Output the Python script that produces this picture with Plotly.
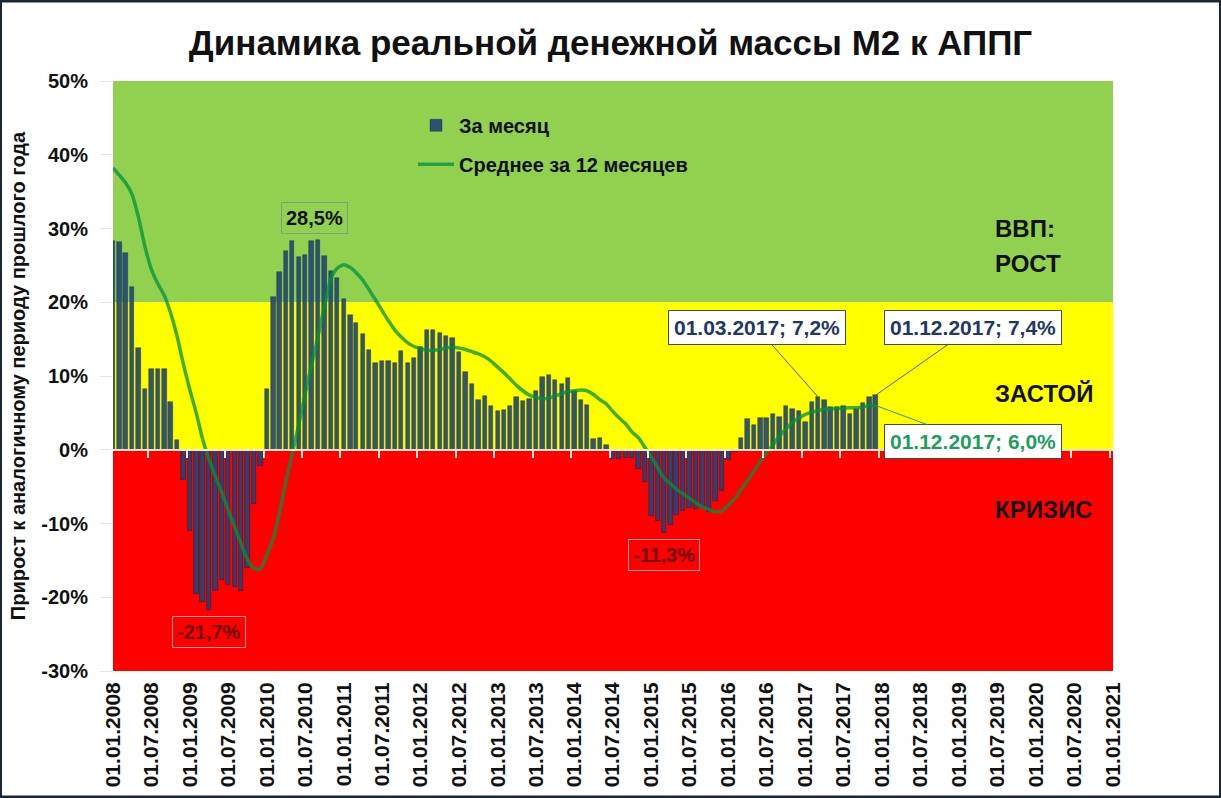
import pandas as pd
import plotly.graph_objects as go

# ---------------- data ----------------
months = pd.date_range("2008-01-01", "2017-12-01", freq="MS")

monthly = [
    28.3, 28.2, 26.7, 22.1, 13.8, 8.3, 11.0, 11.0, 11.0, 6.5, 1.3, -4.1,          # 2008
    -11.0, -19.5, -20.6, -21.7, -19.2, -17.6, -18.3, -18.6, -19.2, -16.0, -7.4, -2.2,  # 2009
    8.2, 20.7, 24.1, 27.0, 28.3, 26.2, 26.4, 28.3, 28.5, 26.3, 24.2, 23.3,       # 2010
    20.5, 18.3, 17.2, 15.7, 13.5, 11.7, 12.1, 12.0, 11.7, 13.4, 11.7, 12.4,      # 2011
    14.0, 16.2, 16.2, 15.8, 15.4, 15.1, 13.2, 10.5, 8.9, 6.8, 7.3, 6.0,          # 2012
    5.3, 5.4, 5.9, 7.1, 6.6, 6.9, 7.9, 9.9, 10.2, 9.4, 8.9, 9.7,                 # 2013
    8.0, 6.8, 6.1, 1.5, 1.6, 0.7, -1.2, -1.2, -1.1, -1.1, -2.6, -4.4,            # 2014
    -9.0, -9.7, -11.3, -10.2, -8.9, -8.3, -7.9, -8.0, -7.9, -8.5, -6.9, -5.6,    # 2015
    -1.4, -0.3, 1.6, 4.2, 3.3, 4.3, 4.3, 4.8, 4.5, 5.9, 5.5, 5.2,                # 2016
    3.7, 6.5, 7.2, 6.7, 5.8, 5.8, 5.9, 4.9, 5.5, 6.3, 7.1, 7.4,                  # 2017
]

avg12 = [
    38.2, 37.2, 36.2, 34.6, 31.5, 27.5, 24.5, 22.5, 20.9, 18.5, 15.3, 11.5,
    8.0, 4.8, 1.5, -1.3, -3.6, -5.8, -8.2, -10.5, -12.8, -14.9, -16.1, -16.2,
    -14.2, -12.0, -8.6, -4.3, -0.6, 3.4, 7.5, 11.5, 15.4, 19.5, 23.2, 24.6,
    25.1, 24.7, 24.0, 23.0, 21.7, 20.3, 18.9, 17.5, 16.2, 15.3, 14.5, 14.0,
    13.7, 13.5, 13.5, 13.6, 13.8, 13.9, 13.8, 13.6, 13.3, 13.0, 12.6, 12.0,
    11.2, 10.4, 9.6, 8.7, 8.0, 7.4, 7.1, 6.9, 7.0, 7.3, 7.6, 7.9,
    8.0, 8.1, 8.0, 7.5, 6.8, 6.2, 5.2, 4.3, 3.5, 2.4, 1.6, 0.3,
    -1.0, -2.5, -3.8, -4.6, -5.4, -6.0, -6.6, -7.2, -7.8, -8.1, -8.4, -8.3,
    -7.5, -6.6, -5.4, -4.2, -2.9, -1.6, -0.4, 0.7, 1.9, 2.8, 3.7, 4.3,
    4.8, 5.1, 5.3, 5.5, 5.5, 5.6, 5.6, 5.7, 5.7, 5.8, 6.0, 6.0,
]

zones = [  # (low, high, colour)
    (20, 50, "#92D050"),
    (0, 20, "#FFFF00"),
    (-30, 0, "#FF0000"),
]
zone_labels = [("ВВП:", 30.0), ("РОСТ", 25.3), ("ЗАСТОЙ", 7.6), ("КРИЗИС", -8.1)]

y_ticks = [50, 40, 30, 20, 10, 0, -10, -20, -30]
y_tick_labels = ["50%", "40%", "30%", "20%", "10%", "0%", "-10%", "-20%", "-30%"]

x_start, x_end = "2008-01-01", "2021-01-01"

title = "Динамика реальной денежной массы М2 к АППГ"
y_title = "Прирост к аналогичному периоду прошлого года"
name_bar = "За месяц"
name_line = "Среднее за 12 месяцев"

peak_labels = [32]          # index of bar with boxed value above
trough_labels = [15, 86]    # index of bars with boxed value below
bar_callouts = [(110, -61, -69), (119, 97, -68)]
line_callouts = [(119, 97, 36)]

# ---------------- helpers ----------------
FONT = "Liberation Sans"


def pct(v):
    return f"{v:.1f}".replace(".", ",") + "%"


def dlabel(i):
    return months[i].strftime("%d.%m.%Y")


fig = go.Figure()

fig.add_trace(go.Bar(
    x=months, y=monthly, name=name_bar,
    width=21 * 24 * 3600 * 1000,
    marker=dict(color="rgba(30,68,120,0.9)",
                line=dict(color="rgba(10,20,40,0.55)", width=0.6)),
    legendgroup="a",
))

fig.add_trace(go.Scatter(
    x=months, y=avg12, name=name_line, mode="lines",
    line=dict(color="rgba(0,145,60,0.75)", width=3.5, shape="spline", smoothing=0.6),
    xaxis="x2", legendgroup="b",
))

# background zones
for lo, hi, col in zones:
    fig.add_shape(type="rect", xref="paper", x0=0, x1=1, yref="y", y0=lo, y1=hi,
                  fillcolor=col, line=dict(width=0), layer="below")

# outer frame
fig.add_shape(type="rect", xref="paper", yref="paper",
              x0=-0.1125, x1=1.1075, y0=-0.2135, y1=1.1355,
              line=dict(color="#1b2636", width=3), fillcolor="rgba(0,0,0,0)", layer="above")

ann = []
for txt, yv in zone_labels:
    ann.append(dict(text=txt, xref="paper", x=0.88, xanchor="left", yref="y", y=yv,
                    yanchor="middle", showarrow=False,
                    font=dict(family=FONT, size=24, color="#111111", weight="bold")))

for i in peak_labels:
    ann.append(dict(text=pct(monthly[i]), x=months[i], y=monthly[i], yshift=22, xshift=-4,
                    showarrow=False, bordercolor="#7fa07a", borderwidth=1, borderpad=4,
                    font=dict(family=FONT, size=20, color="#111111", weight="bold")))
for i in trough_labels:
    ann.append(dict(text=pct(monthly[i]), x=months[i], y=monthly[i], yshift=-22,
                    showarrow=False, bordercolor="#f59a9a", borderwidth=1, borderpad=4,
                    font=dict(family=FONT, size=20, color="#6a0000", weight="bold")))
for i, ax, ay in bar_callouts:
    ann.append(dict(text=f"{dlabel(i)}; {pct(monthly[i])}", x=months[i], y=monthly[i],
                    ax=ax, ay=ay, showarrow=True, arrowhead=0, arrowwidth=1,
                    arrowcolor="#5a5a3a", bgcolor="#FFFFFF", bordercolor="#4a4a4a",
                    borderwidth=1, borderpad=5,
                    font=dict(family=FONT, size=21, color="#1F3864", weight="bold")))
for i, ax, ay in line_callouts:
    ann.append(dict(text=f"{dlabel(i)}; {pct(avg12[i])}", x=months[i], y=avg12[i],
                    xref="x2", ax=ax, ay=ay, showarrow=True, arrowhead=0, arrowwidth=1,
                    arrowcolor="#3a8a5a", bgcolor="#FFFFFF", bordercolor="#4a4a4a",
                    borderwidth=1, borderpad=5,
                    font=dict(family=FONT, size=21, color="#1E9E5E", weight="bold")))

fig.update_layout(
    width=1221, height=798,
    margin=dict(l=113, r=108, t=81, b=127),
    paper_bgcolor="white", plot_bgcolor="white",
    title=dict(text=title, x=0.5, xanchor="center", y=0.947, yanchor="middle",
               font=dict(family=FONT, size=35, color="#111111", weight="bold")),
    bargap=0,
    showlegend=True,
    legend=dict(x=0.300, y=0.958, xanchor="left", yanchor="top",
                bgcolor="rgba(0,0,0,0)", traceorder="grouped", tracegroupgap=10,
                itemwidth=36,
                font=dict(family=FONT, size=20, color="#111111", weight="bold")),
    xaxis=dict(type="date", range=[x_start, x_end], dtick="M6", tick0=x_start,
               tickformat="%d.%m.%Y", tickangle=-90, ticks="", showgrid=False,
               zeroline=False, showline=False, ticklabelstandoff=6,
               tickfont=dict(family=FONT, size=21, color="#111111", weight="bold")),
    xaxis2=dict(type="date", range=[x_start, x_end], overlaying="x", anchor="free",
                position=0.375, side="bottom", dtick="M6", tick0="2007-12-16",
                showticklabels=False, ticks="outside", ticklen=7, tickwidth=1.5,
                tickcolor="#fbe7d6", showline=True, linecolor="#fbe7d6", linewidth=2,
                showgrid=False, zeroline=False),
    yaxis=dict(range=[-30, 50], tickvals=y_ticks, ticktext=y_tick_labels,
               ticks="outside", ticklen=12, tickcolor="#e4e4e4", showgrid=False,
               zeroline=False, showline=False, ticklabelstandoff=8,
               tickfont=dict(family=FONT, size=20, color="#111111", weight="bold"),
               title=dict(text=y_title, standoff=10,
                          font=dict(family=FONT, size=20, color="#111111", weight="bold"))),
    annotations=ann,
)

fig.write_html("out.html", config={"displayModeBar": False},
               post_script="document.body.style.margin='0';")
